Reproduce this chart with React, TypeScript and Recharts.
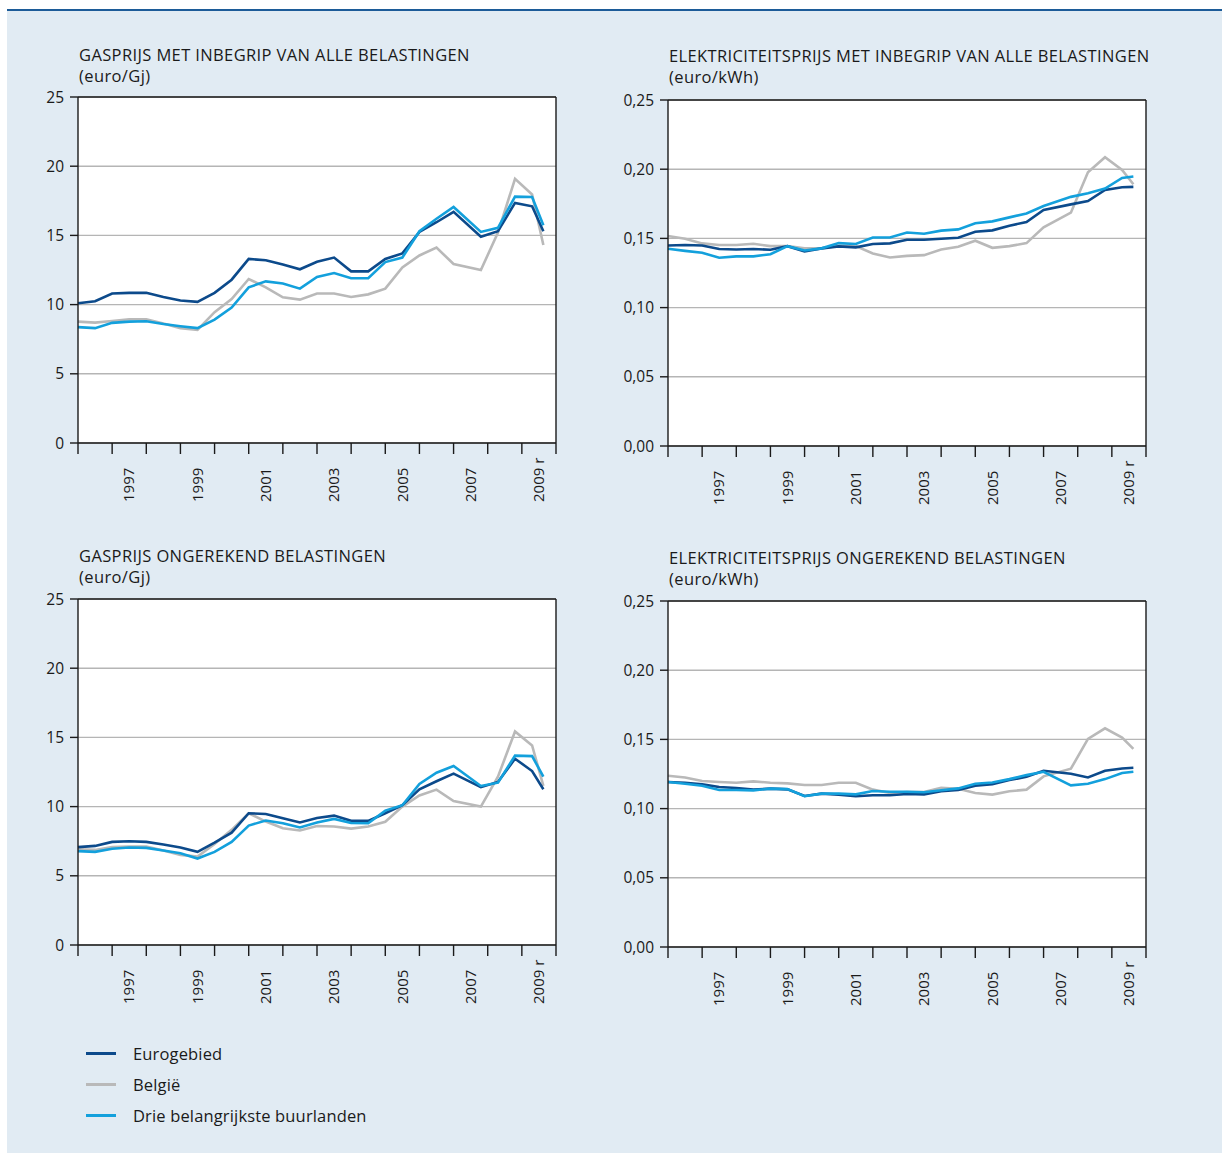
import React from 'react';
import { LineChart, Line, XAxis, YAxis, CartesianGrid, ReferenceLine } from 'recharts';

// half-yearly observations (new methodology from the second half of 2007)
const periods = [
  1996, 1996.5, 1997, 1997.5, 1998, 1998.5, 1999, 1999.5, 2000, 2000.5, 2001, 2001.5,
  2002, 2002.5, 2003, 2003.5, 2004, 2004.5, 2005, 2005.5, 2006, 2006.5, 2007,
  2007.8, 2008.3, 2008.8, 2009.3, 2009.63,
];

const yearTicks = [1996, 1997, 1998, 1999, 2000, 2001, 2002, 2003, 2004, 2005, 2006, 2007, 2008, 2009, 2010];
const labelYears = [1997.5, 1999.5, 2001.5, 2003.5, 2005.5, 2007.5, 2009.5];
const xLabels = ['1997', '1999', '2001', '2003', '2005', '2007', '2009 r'];

const gasTicks = [0, 5, 10, 15, 20, 25];
const elecTicks = [0, 0.05, 0.1, 0.15, 0.2, 0.25];

// gas incl. taxes (euro/Gj)
const gasTaxEuro = [10.1, 10.24, 10.8, 10.85, 10.85, 10.55, 10.3, 10.2, 10.85, 11.8, 13.3, 13.2, 12.9, 12.55, 13.1, 13.4, 12.4, 12.4, 13.3, 13.7, 15.25, 15.95, 16.7, 14.9, 15.3, 17.35, 17.1, 15.3];
const gasTaxBe = [8.77, 8.7, 8.82, 8.94, 8.94, 8.63, 8.3, 8.17, 9.45, 10.4, 11.85, 11.25, 10.53, 10.36, 10.8, 10.8, 10.55, 10.74, 11.15, 12.69, 13.55, 14.12, 12.93, 12.5, 15.2, 19.09, 17.96, 14.3];
const gasTaxNb = [8.37, 8.3, 8.68, 8.77, 8.8, 8.6, 8.44, 8.3, 8.92, 9.78, 11.25, 11.68, 11.53, 11.15, 12.0, 12.28, 11.9, 11.9, 13.07, 13.4, 15.3, 16.2, 17.05, 15.25, 15.55, 17.8, 17.77, 15.73];

// electricity incl. taxes (euro/kWh)
const elecTaxEuro = [0.1449, 0.1452, 0.1449, 0.1423, 0.142, 0.1423, 0.1418, 0.1444, 0.1406, 0.1428, 0.1442, 0.1435, 0.1459, 0.1464, 0.149, 0.149, 0.1498, 0.1505, 0.1548, 0.1558, 0.1592, 0.1618, 0.1705, 0.1746, 0.177, 0.185, 0.187, 0.1872];
const elecTaxBe = [0.1517, 0.1498, 0.1464, 0.1452, 0.1452, 0.1461, 0.1444, 0.1444, 0.1428, 0.1428, 0.1447, 0.1444, 0.1391, 0.1362, 0.1374, 0.1379, 0.142, 0.144, 0.1483, 0.1432, 0.1444, 0.1466, 0.158, 0.1686, 0.1978, 0.2087, 0.1995, 0.1891];
const elecTaxNb = [0.1425, 0.141, 0.1396, 0.136, 0.137, 0.137, 0.1386, 0.1444, 0.1413, 0.1428, 0.1466, 0.146, 0.1507, 0.1507, 0.1543, 0.1534, 0.1556, 0.1565, 0.1609, 0.1623, 0.1652, 0.168, 0.1734, 0.18, 0.1826, 0.186, 0.1937, 0.1947];

// gas excl. taxes (euro/Gj)
const gasNetEuro = [7.07, 7.16, 7.45, 7.5, 7.45, 7.26, 7.04, 6.73, 7.4, 8.12, 9.52, 9.47, 9.16, 8.85, 9.18, 9.35, 8.97, 8.97, 9.52, 10.1, 11.25, 11.83, 12.38, 11.4, 11.78, 13.46, 12.57, 11.25];
const gasNetBe = [6.92, 6.87, 7.07, 7.12, 7.12, 6.83, 6.51, 6.39, 7.3, 8.32, 9.52, 8.92, 8.44, 8.27, 8.6, 8.56, 8.41, 8.56, 8.9, 10.0, 10.8, 11.23, 10.4, 10.0, 12.16, 15.43, 14.42, 11.5];
const gasNetNb = [6.78, 6.73, 6.95, 7.04, 7.02, 6.83, 6.63, 6.25, 6.73, 7.45, 8.63, 8.99, 8.8, 8.49, 8.85, 9.11, 8.82, 8.8, 9.71, 10.1, 11.63, 12.45, 12.93, 11.49, 11.73, 13.68, 13.65, 12.16];

// electricity excl. taxes (euro/kWh)
const elecNetEuro = [0.1192, 0.1187, 0.1175, 0.1156, 0.1149, 0.1137, 0.1144, 0.1139, 0.1091, 0.1108, 0.1101, 0.1089, 0.1096, 0.1096, 0.1106, 0.1103, 0.1125, 0.1134, 0.1165, 0.1177, 0.1206, 0.123, 0.1273, 0.1252, 0.1225, 0.1273, 0.129, 0.1295];
const elecNetBe = [0.1237, 0.1225, 0.1199, 0.1192, 0.1187, 0.1197, 0.1187, 0.1182, 0.117, 0.117, 0.1187, 0.1187, 0.1137, 0.1113, 0.112, 0.112, 0.1151, 0.1144, 0.1113, 0.1101, 0.1125, 0.1137, 0.1233, 0.1288, 0.1504, 0.158, 0.1513, 0.1432];
const elecNetNb = [0.1192, 0.118, 0.1165, 0.1134, 0.1134, 0.1132, 0.1144, 0.1141, 0.1089, 0.1108, 0.1108, 0.1103, 0.1127, 0.1122, 0.1122, 0.1118, 0.1132, 0.1146, 0.118, 0.1189, 0.1213, 0.1242, 0.1266, 0.1168, 0.118, 0.1213, 0.1257, 0.1266];

const seriesNames = ['Eurogebied', 'België', 'Drie belangrijkste buurlanden'];
const COLORS = { euro: '#0c4a8b', be: '#b9b9b9', nb: '#13a0dc' };
const INK = '#1a1a1a';
const FONT = '"Open Sans", "DejaVu Sans", sans-serif';

const build = (a: number[], b: number[], c: number[]) =>
  periods.map((t, i) => ({ t, euro: a[i], be: b[i], nb: c[i] }));

const PLOT_W = 478;
const PLOT_H = 346;
const SIDE = 60;

const XTick = (props: any) => {
  const { x, y, payload } = props;
  const v = payload.value;
  if (Number.isInteger(v)) {
    return <line x1={x} y1={y} x2={x} y2={y + 11} stroke={INK} strokeWidth={1.4} />;
  }
  const label = xLabels[labelYears.indexOf(v)];
  return (
    <text
      x={x}
      y={y + 59}
      transform={`rotate(-90, ${x}, ${y + 59})`}
      textAnchor="start"
      dy="0.35em"
      fill={INK}
      fontSize={15}
    >
      {label}
    </text>
  );
};

interface PanelProps {
  left: number;
  top: number;
  title: string;
  unit: string;
  titleTop: number;
  data: { t: number; euro: number; be: number; nb: number }[];
  ticks: number[];
  fmt: (v: number) => string;
}

const Panel: React.FC<PanelProps> = ({ left, top, title, unit, titleTop, data, ticks, fmt }) => {
  const max = ticks[ticks.length - 1];
  return (
    <>
      <div style={{ position: 'absolute', left: left + 1, top: titleTop, fontSize: 16.5, letterSpacing: 0.38, lineHeight: '21px', color: INK, whiteSpace: 'nowrap' }}>
        {title}
        <br />
        {unit}
      </div>
      <div style={{ position: 'absolute', left: left - SIDE, top: top - 10 }}>
        <LineChart
          width={SIDE * 2 + PLOT_W}
          height={10 + PLOT_H + 70}
          data={data}
          margin={{ top: 10, right: 0, bottom: 0, left: 0 }}
          style={{ fontFamily: FONT }}
        >
          <CartesianGrid vertical={false} stroke="#b5b5b5" strokeWidth={1.4} fill="#ffffff" yAxisId="l" />
          <XAxis
            dataKey="t"
            type="number"
            domain={[1996, 2010]}
            ticks={[...yearTicks, ...labelYears].sort((p, q) => p - q)}
            interval={0}
            tickLine={false}
            tickSize={0}
            tickMargin={0}
            tick={<XTick />}
            height={70}
            axisLine={{ stroke: INK, strokeWidth: 1.4 }}
          />
          <YAxis
            yAxisId="l"
            domain={[0, max]}
            ticks={ticks}
            width={SIDE}
            tickSize={8}
            tickMargin={6}
            tickFormatter={fmt}
            tick={{ fill: INK, fontSize: 15.5 }}
            axisLine={{ stroke: INK, strokeWidth: 1.4 }}
            tickLine={{ stroke: INK, strokeWidth: 1.4 }}
          />
          <YAxis
            yAxisId="r"
            orientation="right"
            domain={[0, max]}
            ticks={ticks}
            width={SIDE}
            tickSize={8}
            tickMargin={6}
            tickFormatter={fmt}
            tick={{ fill: INK, fontSize: 15.5 }}
            axisLine={{ stroke: INK, strokeWidth: 1.4 }}
            tickLine={{ stroke: INK, strokeWidth: 1.4 }}
          />
          <ReferenceLine yAxisId="l" y={max} stroke={INK} strokeWidth={1.4} />
          <Line yAxisId="l" type="linear" dataKey="be" name={seriesNames[1]} stroke={COLORS.be} strokeWidth={2.6} dot={false} isAnimationActive={false} />
          <Line yAxisId="l" type="linear" dataKey="euro" name={seriesNames[0]} stroke={COLORS.euro} strokeWidth={2.6} dot={false} isAnimationActive={false} />
          <Line yAxisId="l" type="linear" dataKey="nb" name={seriesNames[2]} stroke={COLORS.nb} strokeWidth={2.6} dot={false} isAnimationActive={false} />
        </LineChart>
      </div>
    </>
  );
};

const gasFmt = (v: number) => String(v);
const elecFmt = (v: number) => v.toFixed(2).replace('.', ',');

export default function App() {
  const legendColors = [COLORS.euro, COLORS.be, COLORS.nb];
  return (
    <div style={{ position: 'absolute', left: 0, top: 0, width: 1222, height: 1153, fontFamily: FONT, background: '#ffffff' }}>
      <div style={{ position: 'absolute', left: 7, top: 9, width: 1215, height: 2, background: '#1c5b98' }} />
      <div style={{ position: 'absolute', left: 7, top: 11, width: 1215, height: 1142, background: '#e1ebf3' }} />

      <Panel left={78} top={97} titleTop={44} title="GASPRIJS MET INBEGRIP VAN ALLE BELASTINGEN" unit="(euro/Gj)"
        data={build(gasTaxEuro, gasTaxBe, gasTaxNb)} ticks={gasTicks} fmt={gasFmt} />
      <Panel left={668} top={100} titleTop={45} title="ELEKTRICITEITSPRIJS MET INBEGRIP VAN ALLE BELASTINGEN" unit="(euro/kWh)"
        data={build(elecTaxEuro, elecTaxBe, elecTaxNb)} ticks={elecTicks} fmt={elecFmt} />
      <Panel left={78} top={599} titleTop={545} title="GASPRIJS ONGEREKEND BELASTINGEN" unit="(euro/Gj)"
        data={build(gasNetEuro, gasNetBe, gasNetNb)} ticks={gasTicks} fmt={gasFmt} />
      <Panel left={668} top={601} titleTop={547} title="ELEKTRICITEITSPRIJS ONGEREKEND BELASTINGEN" unit="(euro/kWh)"
        data={build(elecNetEuro, elecNetBe, elecNetNb)} ticks={elecTicks} fmt={elecFmt} />

      {seriesNames.map((name, i) => (
        <div key={name} style={{ position: 'absolute', left: 86, top: 1042 + i * 31, height: 22, display: 'flex', alignItems: 'center' }}>
          <div style={{ width: 30, height: 3, background: legendColors[i] }} />
          <span style={{ marginLeft: 17, fontSize: 16.5, letterSpacing: 0.15, color: INK }}>{name}</span>
        </div>
      ))}
    </div>
  );
}
